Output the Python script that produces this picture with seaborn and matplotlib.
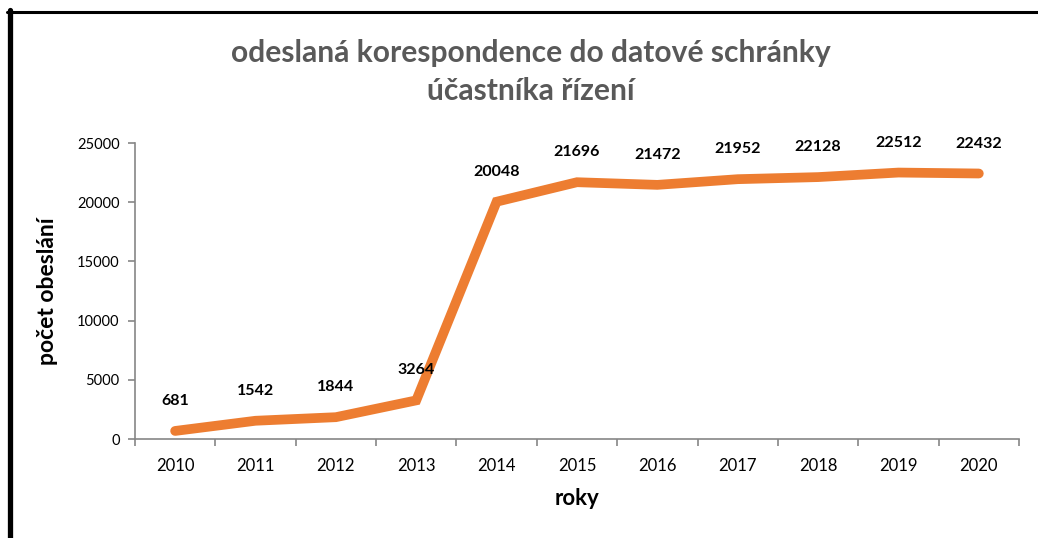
import numpy as np
import pandas as pd
import matplotlib
matplotlib.use("Agg")
import matplotlib.pyplot as plt
import seaborn as sns
from matplotlib.lines import Line2D

years = ["2010", "2011", "2012", "2013", "2014", "2015", "2016", "2017", "2018", "2019", "2020"]
values = [681, 1542, 1844, 3264, 20048, 21696, 21472, 21952, 22128, 22512, 22432]
yticks = [0, 5000, 10000, 15000, 20000, 25000]

title = "odeslaná korespondence do datové schránky\núčastníka řízení"
xlabel = "roky"
ylabel = "počet obeslání"

sns.set_theme(style="white")
plt.rcParams["font.family"] = ["Lato", "DejaVu Sans"]

fig = plt.figure(figsize=(10.38, 5.38), dpi=100)
ax = fig.add_axes([0.130, 0.184, 0.8517, 0.550])

df = pd.DataFrame({"rok": years, "pocet": values})
sns.lineplot(data=df, x="rok", y="pocet", ax=ax, color="#ED7D31", linewidth=7,
             solid_capstyle="round", solid_joinstyle="miter", sort=False)

for i, v in enumerate(values):
    ax.annotate(str(v), (i, v), xytext=(0, 16.5), textcoords="offset points",
                ha="center", va="bottom", fontsize=11.5, fontweight="bold", color="black")

ax.set_xlim(-0.5, len(years) - 0.5)
ax.set_ylim(0, 25000)
ax.set_yticks(yticks)
ax.set_yticklabels([str(t) for t in yticks])
ax.set_xticks(np.arange(-0.5, len(years)), minor=True)

axis_col = "#868686"
for s in ["top", "right"]:
    ax.spines[s].set_visible(False)
for s in ["left", "bottom"]:
    ax.spines[s].set_color(axis_col)
    ax.spines[s].set_linewidth(1.2)

ax.tick_params(axis="x", which="major", length=0, labelsize=12, colors="black", pad=14)
ax.tick_params(axis="x", which="minor", length=5, width=1.2, color=axis_col, direction="out", bottom=True)
ax.tick_params(axis="y", which="major", length=5, width=1.2, color=axis_col, direction="out",
               left=True, labelsize=10.5, labelcolor="black", pad=6)
ax.grid(False)

ax.set_xlabel(xlabel, fontsize=16, fontweight="bold", color="black", labelpad=10)
ax.set_ylabel(ylabel, fontsize=16.5, fontweight="bold", color="black", labelpad=14)

fig.text(0.511, 0.866, title, ha="center", va="center", fontsize=21.6, fontweight="bold",
         color="#595959", linespacing=1.45)

# frame lines
fig.add_artist(Line2D([7/1038, 1.0], [1 - 11.5/538, 1 - 11.5/538], transform=fig.transFigure,
                      color="black", linewidth=2.2))
fig.add_artist(Line2D([9.5/1038, 9.5/1038], [0, 1 - 10/538], transform=fig.transFigure,
                      color="black", linewidth=3.8))

fig.savefig("out.png", dpi=100, facecolor="white")
